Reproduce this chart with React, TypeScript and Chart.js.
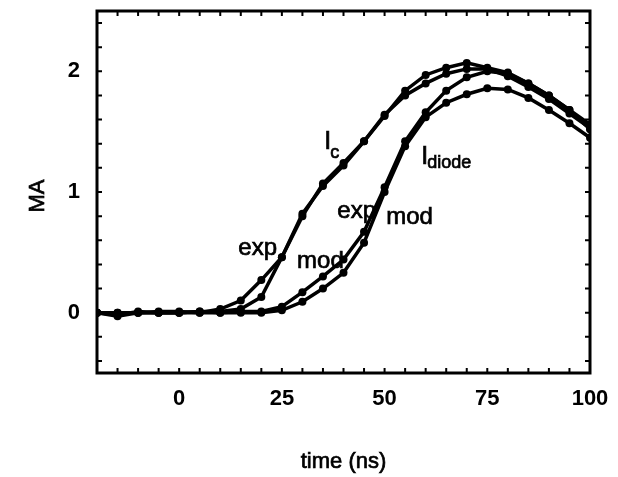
import React, { useEffect, useRef } from "react";
import { Chart, registerables } from "chart.js";

Chart.register(...registerables);

const timeNs = [-20, -15, -10, -5, 0, 5, 10, 15, 20, 25, 30, 35, 40, 45, 50, 55, 60, 65, 70, 75, 80, 85, 90, 95, 100];
const icExp = [0.0, -0.03, 0.0, 0.01, 0.01, 0.0, 0.03, 0.1, 0.27, 0.46, 0.8, 1.07, 1.24, 1.42, 1.63, 1.84, 1.97, 2.03, 2.07, 2.03, 1.99, 1.9, 1.8, 1.68, 1.56];
const icMod = [0.0, 0.0, 0.0, 0.0, 0.0, 0.01, 0.01, 0.03, 0.13, 0.46, 0.82, 1.05, 1.22, 1.42, 1.64, 1.8, 1.9, 1.98, 2.02, 2.02, 1.96, 1.87, 1.77, 1.65, 1.53];
const idiodeExp = [0.0, -0.02, 0.01, 0.0, 0.0, 0.01, 0.0, 0.01, 0.01, 0.05, 0.17, 0.3, 0.44, 0.67, 1.04, 1.42, 1.66, 1.84, 1.95, 2.0, 1.98, 1.9, 1.8, 1.68, 1.52];
const idiodeMod = [0.0, 0.0, 0.0, 0.0, 0.0, 0.0, 0.0, 0.0, 0.0, 0.02, 0.09, 0.2, 0.33, 0.58, 1.0, 1.38, 1.62, 1.74, 1.81, 1.86, 1.85, 1.78, 1.68, 1.57, 1.45];

const xTickValues = [0, 25, 50, 75, 100];
const yTickValues = [0, 1, 2];
const xMinorStep = 5;
const yMinorStep = 0.2;

const xLabel = "time (ns)";
const yLabel = "MA";

// text annotations in data coordinates: [text, x, y, fontSize]
const annotationTexts: [string, number, number, number][] = [
  ["exp", 14.4, 0.48, 24],
  ["mod", 28.7, 0.37, 24],
  ["exp", 38.5, 0.785, 24],
  ["mod", 50.4, 0.735, 24],
  ["I", 35.3, 1.355, 25],
  ["c", 36.8, 1.28, 18],
  ["I", 58.9, 1.23, 25],
  ["diode", 60.4, 1.198, 18],
];

const FONT = "'Liberation Sans', Arial, Helvetica, sans-serif";

function toPoints(ys: number[]) {
  return timeNs.map((t, i) => ({ x: t, y: ys[i] }));
}

function boldText(ctx: CanvasRenderingContext2D, text: string, x: number, y: number) {
  ctx.fillText(text, x, y);
  ctx.strokeText(text, x, y);
}

const framePlugin = {
  id: "frameAndText",
  afterDatasetsDraw(chart: any) {
    const { ctx, chartArea, scales } = chart;
    const xs = scales.x;
    const ys = scales.y;
    ctx.save();
    ctx.strokeStyle = "#000";
    ctx.lineWidth = 3;
    ctx.strokeRect(chartArea.left, chartArea.top, chartArea.right - chartArea.left, chartArea.bottom - chartArea.top);
    ctx.lineWidth = 2;
    ctx.beginPath();
    for (let t = xs.min + xMinorStep; t < xs.max - 1e-6; t += xMinorStep) {
      const px = xs.getPixelForValue(t);
      ctx.moveTo(px, chartArea.bottom);
      ctx.lineTo(px, chartArea.bottom - 5);
      ctx.moveTo(px, chartArea.top);
      ctx.lineTo(px, chartArea.top + 5);
    }
    const yStart = Math.ceil(ys.min / yMinorStep) * yMinorStep;
    for (let k = 0; k < 100; k++) {
      const vv = Math.round((yStart + k * yMinorStep) * 100) / 100;
      if (vv <= ys.min + 1e-6) continue;
      if (vv >= ys.max - 1e-6) break;
      const py = ys.getPixelForValue(vv);
      ctx.moveTo(chartArea.left, py);
      ctx.lineTo(chartArea.left + 5, py);
      ctx.moveTo(chartArea.right, py);
      ctx.lineTo(chartArea.right - 5, py);
    }
    ctx.stroke();
    ctx.fillStyle = "#000";
    ctx.lineWidth = 0.7;
    ctx.textAlign = "left";
    ctx.textBaseline = "alphabetic";
    for (const [text, x, y, size] of annotationTexts) {
      ctx.font = `${size}px ${FONT}`;
      boldText(ctx, text, xs.getPixelForValue(x), ys.getPixelForValue(y));
    }
    ctx.font = `22px ${FONT}`;
    ctx.textAlign = "center";
    ctx.textBaseline = "middle";
    boldText(ctx, xLabel, (chartArea.left + chartArea.right) / 2, 462);
    ctx.translate(38, 196);
    ctx.rotate(-Math.PI / 2);
    boldText(ctx, yLabel, 0, 0);
    ctx.restore();
  },
};

export default function App() {
  const canvasRef = useRef<HTMLCanvasElement | null>(null);

  useEffect(() => {
    if (!canvasRef.current) return;
    const mk = (label: string, ys: number[]) => ({
      label,
      data: toPoints(ys),
      borderColor: "#000",
      backgroundColor: "#000",
      borderWidth: 3.5,
      pointRadius: 4,
      pointBackgroundColor: "#000",
      pointBorderWidth: 0,
      tension: 0,
      fill: false,
    });
    const chart = new Chart(canvasRef.current, {
      type: "line",
      data: {
        datasets: [
          mk("Ic exp", icExp),
          mk("Ic mod", icMod),
          mk("Idiode exp", idiodeExp),
          mk("Idiode mod", idiodeMod),
        ],
      },
      options: {
        animation: false,
        responsive: false,
        maintainAspectRatio: false,
        layout: { padding: { top: 11, right: 28, left: 0, bottom: 0 } },
        plugins: { legend: { display: false }, tooltip: { enabled: false } },
        scales: {
          x: {
            type: "linear",
            min: -20,
            max: 100,
            grid: { display: false, drawTicks: false },
            border: { display: false },
            afterBuildTicks: (s: any) => {
              s.ticks = xTickValues.map((v) => ({ value: v }));
            },
            afterFit: (s: any) => {
              s.height = 104;
              s.paddingLeft = 0;
              s.paddingRight = 0;
            },
            ticks: {
              color: "#000",
              padding: 13,
              maxRotation: 0,
              font: { family: FONT, size: 22, weight: "bold" },
            },
          },
          y: {
            type: "linear",
            min: -0.5,
            max: 2.5,
            grid: { display: false, drawTicks: false },
            border: { display: false },
            afterBuildTicks: (s: any) => {
              s.ticks = yTickValues.map((v) => ({ value: v }));
            },
            afterFit: (s: any) => {
              s.width = 97;
              s.paddingTop = 0;
              s.paddingBottom = 0;
            },
            ticks: {
              color: "#000",
              padding: 17,
              font: { family: FONT, size: 22, weight: "bold" },
            },
          },
        },
      },
      plugins: [framePlugin],
    } as any);
    return () => chart.destroy();
  }, []);

  return (
    <div style={{ position: "absolute", left: 0, top: 0, width: 618, height: 477, background: "#fff" }}>
      <canvas ref={canvasRef} width={618} height={477} style={{ width: 618, height: 477 }} />
    </div>
  );
}
